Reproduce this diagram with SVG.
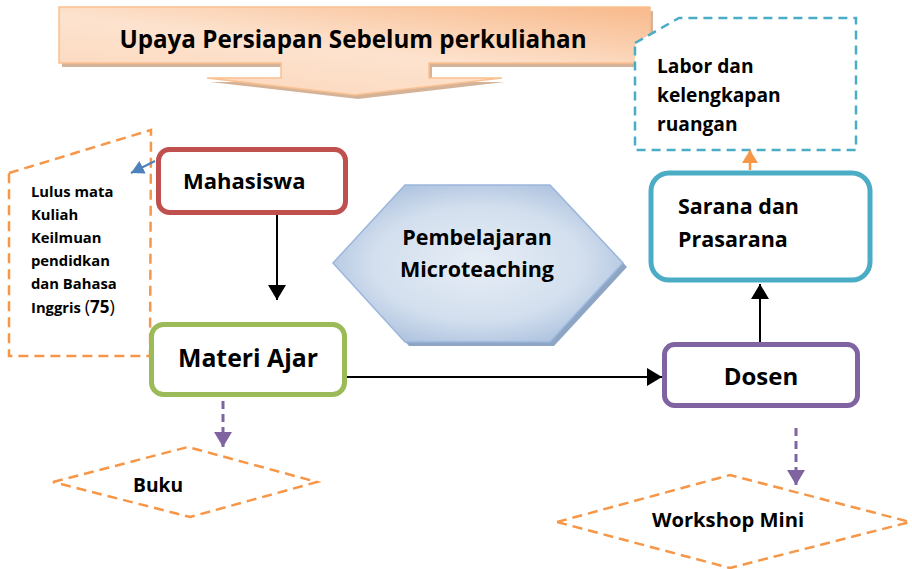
<svg xmlns="http://www.w3.org/2000/svg" width="912" height="569" viewBox="0 0 912 569">
<defs>
<linearGradient id="gBanner" x1="1" y1="0" x2="0.2" y2="1">
<stop offset="0" stop-color="#f8b98a"/>
<stop offset="0.55" stop-color="#fde3cf"/>
<stop offset="1" stop-color="#fcd7bb"/>
</linearGradient>
<radialGradient id="gHex" cx="0.5" cy="0.5" r="0.6">
<stop offset="0" stop-color="#e6edf6"/>
<stop offset="0.6" stop-color="#d3dfee"/>
<stop offset="1" stop-color="#a6bddc"/>
</radialGradient>
<marker id="mBlack" markerUnits="userSpaceOnUse" markerWidth="16" markerHeight="18" refX="15" refY="9" orient="auto">
<path d="M0,0 L15,9 L0,18 Z" fill="#000"/>
</marker>
<marker id="mPurple" markerUnits="userSpaceOnUse" markerWidth="16" markerHeight="18" refX="15" refY="9" orient="auto">
<path d="M0,0 L15,9 L0,18 Z" fill="#8064a2"/>
</marker>
<marker id="mOrange" markerUnits="userSpaceOnUse" markerWidth="14" markerHeight="16" refX="13" refY="8" orient="auto">
<path d="M0,0 L13,8 L0,16 Z" fill="#f79646"/>
</marker>
<marker id="mBlue" markerUnits="userSpaceOnUse" markerWidth="14" markerHeight="14" refX="13" refY="7" orient="auto">
<path d="M0,0 L13,7 L0,14 Z" fill="#4f81bd"/>
</marker>
</defs>
<style>
text{font-family:"Open Sans","Liberation Sans",sans-serif;font-weight:bold;fill:#000;}
.box{fill:#fff;stroke-width:5;}
.dashO{fill:#fff;stroke:#f79646;stroke-width:2.5;stroke-dasharray:10,6;}
.dashT{fill:#fff;stroke:#4bacc6;stroke-width:2.5;stroke-dasharray:9,6;}
.conn{fill:none;stroke:#000;stroke-width:2;}
.connP{fill:none;stroke:#8064a2;stroke-width:3;stroke-dasharray:8,5;}
</style>

<g id="banner">
<path d="M59,7 H650 V63 H429 V78 H502 L355,95 L207,78 H281 V63 H59 Z" fill="#c9a080" opacity="0.8" transform="translate(3,4)"/>
<path d="M59,7 H650 V63 H429 V78 H502 L355,95 L207,78 H281 V63 H59 Z" fill="url(#gBanner)" stroke="#fac08f" stroke-width="1.5"/>
<text x="353" y="48" font-size="24.2" text-anchor="middle">Upaya Persiapan Sebelum perkuliahan</text>
</g>

<g id="lulus">
<path class="dashO" d="M9,173 L151,130 L150,356 L9,356 Z"/>
<text x="31" y="197" font-size="14.8">Lulus mata</text>
<text x="31" y="220" font-size="14.8">Kuliah</text>
<text x="31" y="243" font-size="14.8">Keilmuan</text>
<text x="31" y="266" font-size="14.8">pendidkan</text>
<text x="31" y="289" font-size="14.8">dan Bahasa</text>
<text x="31" y="313" font-size="14.8">Inggris <tspan font-size="18" font-weight="normal">(</tspan><tspan font-size="17">75</tspan><tspan font-size="18" font-weight="normal">)</tspan></text>
</g>

<g id="labor">
<path class="dashT" d="M635,43 L679,18 L856,18 L856,150 L635,150 Z"/>
<text x="657" y="73" font-size="19.2">Labor dan</text>
<text x="657" y="102" font-size="19.2">kelengkapan</text>
<text x="657" y="131" font-size="19.2">ruangan</text>
</g>

<g id="mahasiswa">
<rect class="box" x="158.5" y="149.5" width="187" height="63" rx="11" stroke="#c0504d"/>
<text x="183" y="189" font-size="22">Mahasiswa</text>
</g>

<g id="materi">
<rect class="box" x="151.5" y="324.5" width="193" height="70" rx="12" stroke="#9bbb59"/>
<text x="248" y="367" font-size="24.8" text-anchor="middle">Materi Ajar</text>
</g>

<g id="hexagon">
<polygon points="333,263 405,185 550,185 623,263 550,342 405,342" fill="#8ea5c4" transform="translate(4,4)"/>
<polygon points="333,263 405,185 550,185 623,263 550,342 405,342" fill="url(#gHex)" stroke="#9bb7db" stroke-width="1.5"/>
<text x="477" y="245" font-size="21.5" text-anchor="middle">Pembelajaran</text>
<text x="477" y="277" font-size="21.5" text-anchor="middle">Microteaching</text>
</g>

<g id="sarana">
<rect class="box" x="651" y="173" width="219" height="107" rx="18" stroke="#4bacc6" stroke-width="6"/>
<text x="678" y="214" font-size="21.5">Sarana dan</text>
<text x="678" y="247" font-size="21.5">Prasarana</text>
</g>

<g id="dosen">
<rect class="box" x="664.5" y="344.5" width="193" height="61" rx="10" stroke="#8064a2"/>
<text x="761" y="385" font-size="24" text-anchor="middle">Dosen</text>
</g>

<g id="buku">
<path class="dashO" d="M53,482 L188,447 L317,482 L190,517 Z"/>
<text x="158" y="492" font-size="19.2" text-anchor="middle">Buku</text>
</g>

<g id="workshop">
<path class="dashO" d="M557,522 L730,475 L910,522 L730,568 Z"/>
<text x="728" y="527" font-size="20.2" text-anchor="middle">Workshop Mini</text>
</g>

<g id="connectors">
<line class="conn" x1="277" y1="215" x2="277" y2="300" marker-end="url(#mBlack)"/>
<line class="conn" x1="347" y1="377" x2="662" y2="377" marker-end="url(#mBlack)"/>
<line class="conn" x1="760" y1="342" x2="760" y2="284" marker-end="url(#mBlack)"/>
<line fill="none" stroke="#f79646" stroke-width="2.5" x1="750" y1="170" x2="750" y2="150" marker-end="url(#mOrange)"/>
<line fill="none" stroke="#4f81bd" stroke-width="2" x1="155" y1="161" x2="131" y2="173" marker-end="url(#mBlue)"/>
<line class="connP" x1="223" y1="401" x2="223" y2="447" marker-end="url(#mPurple)"/>
<line class="connP" x1="796" y1="428" x2="796" y2="485" marker-end="url(#mPurple)"/>
</g>
</svg>
